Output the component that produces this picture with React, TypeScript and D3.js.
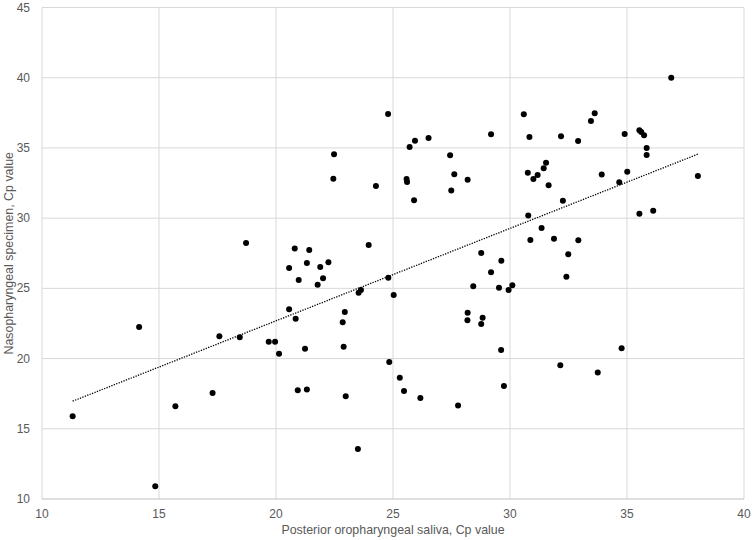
import React, { useEffect, useRef } from 'react';
import * as d3 from 'd3';

// Posterior oropharyngeal saliva Cp (x) vs nasopharyngeal specimen Cp (y)
const salivaCp = [
  11.31, 14.15, 14.84, 15.7, 17.29, 17.58, 18.45, 18.72, 19.69, 19.96,
  20.13, 20.8, 21.42, 20.56, 21.32, 21.89, 22.24, 20.97, 21.78, 22.01,
  20.56, 20.84, 21.24, 20.93, 21.32, 22.94, 22.85, 22.89, 22.98, 23.5,
  23.53, 23.63, 23.96, 22.48, 22.45, 24.27, 24.79, 24.8, 25.03, 24.84,
  25.29, 25.47, 26.17, 25.71, 25.94, 26.52, 25.58, 25.6, 25.9, 27.44,
  27.62, 28.19, 27.49, 27.78, 28.19, 28.18, 28.83, 28.77, 28.77, 29.63,
  29.19, 28.43, 29.53, 29.94, 30.1, 29.62, 29.74, 29.19, 30.59, 30.83,
  30.76, 31.0, 31.18, 31.44, 31.54, 31.65, 30.78, 30.87, 31.35, 31.88,
  32.18, 32.26, 32.49, 32.41, 32.15, 32.91, 32.92, 33.46, 33.62, 33.92,
  33.75, 34.67, 35.01, 34.9, 34.77, 35.53, 35.61, 35.73, 35.84, 35.84,
  35.53, 36.12, 36.89, 38.03,
];

const nasoCp = [
  15.89, 22.25, 10.9, 16.6, 17.55, 21.59, 21.52, 28.23, 21.2, 21.2,
  20.35, 27.83, 27.74, 26.45, 26.81, 26.52, 26.86, 25.6, 25.26, 25.72,
  23.51, 22.83, 20.7, 17.74, 17.79, 23.32, 22.59, 20.85, 17.31, 13.56,
  24.69, 24.89, 28.09, 34.55, 32.81, 32.29, 37.42, 25.76, 24.53, 19.76,
  18.64, 17.69, 17.19, 35.07, 35.52, 35.71, 32.79, 32.58, 31.27, 34.48,
  33.13, 32.74, 31.96, 16.65, 23.27, 22.73, 22.91, 22.46, 27.52, 26.97,
  26.15, 25.15, 25.05, 24.89, 25.22, 20.61, 18.05, 35.98, 37.4, 35.78,
  33.24, 32.79, 33.08, 33.55, 33.95, 32.34, 30.18, 28.45, 29.3, 28.54,
  35.83, 31.23, 27.43, 25.83, 19.52, 35.5, 28.43, 36.92, 37.47, 33.1,
  19.0, 32.56, 33.31, 36.0, 20.73, 36.26, 36.14, 35.9, 35.0, 34.5,
  30.32, 30.53, 40.0, 33.0,
];

const xTicks = [10, 15, 20, 25, 30, 35, 40];
const yTicks = [10, 15, 20, 25, 30, 35, 40, 45];

const xTitle = 'Posterior oropharyngeal saliva, Cp value';
const yTitle = 'Nasopharyngeal specimen, Cp value';

const ScatterChart = ({ width = 754, height = 540 }) => {
  const svgRef = useRef(null);

  useEffect(() => {
    const svg = d3.select(svgRef.current);
    svg.selectAll('*').remove();

    const margin = { top: 7.5, right: 10, bottom: 41, left: 42 };
    const innerWidth = width - margin.left - margin.right;
    const innerHeight = height - margin.top - margin.bottom;
    const font = 'Liberation Sans, Arial, sans-serif';
    const textColor = '#595959';

    const x = d3.scaleLinear().domain([10, 40]).range([0, innerWidth]);
    const y = d3.scaleLinear().domain([10, 45]).range([innerHeight, 0]);

    const g = svg.append('g')
      .attr('transform', `translate(${margin.left},${margin.top})`);

    // gridlines
    g.append('g')
      .selectAll('line')
      .data(xTicks)
      .join('line')
      .attr('x1', d => x(d)).attr('x2', d => x(d))
      .attr('y1', 0).attr('y2', innerHeight)
      .attr('stroke', '#d9d9d9')
      .attr('stroke-width', 1);

    g.append('g')
      .selectAll('line')
      .data(yTicks)
      .join('line')
      .attr('x1', 0).attr('x2', innerWidth)
      .attr('y1', d => y(d)).attr('y2', d => y(d))
      .attr('stroke', d => (d === 10 ? '#bfbfbf' : '#d9d9d9'))
      .attr('stroke-width', 1);

    // tick labels
    g.append('g')
      .selectAll('text')
      .data(xTicks)
      .join('text')
      .attr('x', d => x(d))
      .attr('y', innerHeight + 19)
      .attr('text-anchor', 'middle')
      .attr('font-family', font)
      .attr('font-size', 12)
      .attr('fill', textColor)
      .text(d => d);

    g.append('g')
      .selectAll('text')
      .data(yTicks)
      .join('text')
      .attr('x', -12)
      .attr('y', d => y(d) + 4)
      .attr('text-anchor', 'end')
      .attr('font-family', font)
      .attr('font-size', 12)
      .attr('fill', textColor)
      .text(d => d);

    // axis titles
    g.append('text')
      .attr('x', innerWidth / 2)
      .attr('y', innerHeight + 35)
      .attr('text-anchor', 'middle')
      .attr('font-family', font)
      .attr('font-size', 12.4)
      .attr('fill', textColor)
      .text(xTitle);

    g.append('text')
      .attr('transform', `translate(${-29},${innerHeight / 2}) rotate(-90)`)
      .attr('text-anchor', 'middle')
      .attr('font-family', font)
      .attr('font-size', 12.4)
      .attr('fill', textColor)
      .text(yTitle);

    // linear trendline (least squares)
    const pts = salivaCp.map((v, i) => [v, nasoCp[i]]);
    const mx = d3.mean(salivaCp);
    const my = d3.mean(nasoCp);
    const sxy = d3.sum(pts, p => (p[0] - mx) * (p[1] - my));
    const sxx = d3.sum(salivaCp, v => (v - mx) * (v - mx));
    const slope = sxy / sxx;
    const intercept = my - slope * mx;
    const [x0, x1] = d3.extent(salivaCp);

    g.append('path')
      .datum([x0, x1])
      .attr('d', d3.line().x(d => x(d)).y(d => y(intercept + slope * d)))
      .attr('fill', 'none')
      .attr('stroke', '#000')
      .attr('stroke-width', 1.3)
      .attr('stroke-dasharray', '1.3 1.3');

    // points
    g.append('g')
      .selectAll('circle')
      .data(pts)
      .join('circle')
      .attr('cx', d => x(d[0]))
      .attr('cy', d => y(d[1]))
      .attr('r', 3)
      .attr('fill', '#000');
  }, [width, height]);

  return <svg ref={svgRef} width={width} height={height} style={{ display: 'block' }}></svg>;
};

export default function App() {
  return (
    <div style={{ position: 'absolute', left: 0, top: 0, background: '#fff' }}>
      <ScatterChart />
    </div>
  );
}
